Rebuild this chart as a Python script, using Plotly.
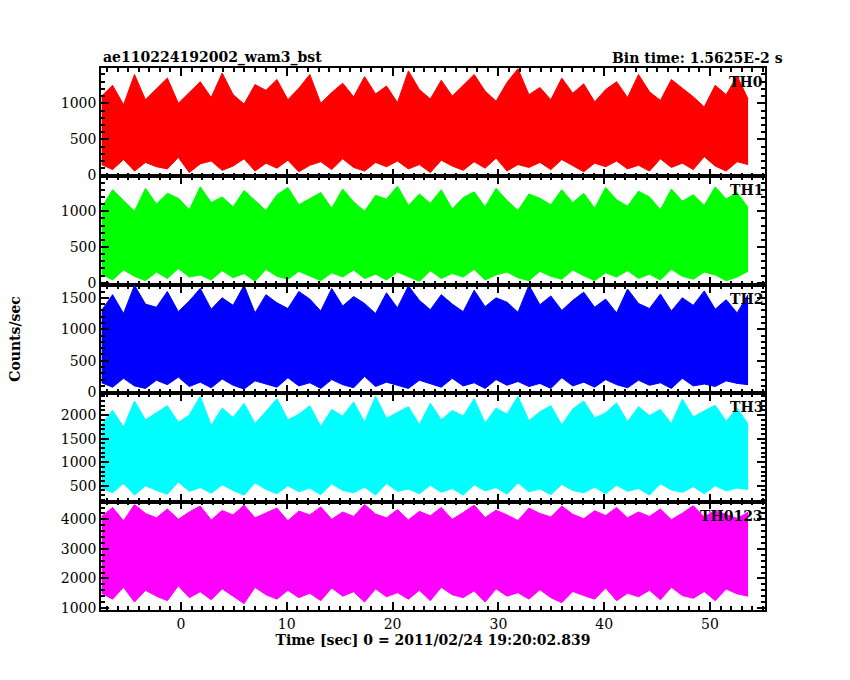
import numpy as np
import plotly.graph_objects as go
from plotly.subplots import make_subplots

# light curve, time span of the bins (s); values come in (peak, dip) pairs
t_start, t_stop = -7.5, 53.6

th0 = [1100,150,1250,80,980,220,1400,60,1050,180,1200,120,1350,90,1000,250,1150,40,1300,160,
       1080,200,1420,70,1120,130,990,230,1260,60,1180,170,1330,100,1050,210,1210,50,1400,140,
       1000,190,1150,80,1280,230,1090,110,1370,60,1130,180,1240,120,1010,200,1450,90,1190,150,
       1060,40,1320,210,1100,130,1250,70,1400,190,1170,100,1030,240,1290,60,1480,150,1120,110,
       1220,180,1050,80,1350,220,1140,130,1270,50,1020,170,1190,120,1300,200,1080,90,1400,140,
       1160,60,1040,230,1330,110,1210,170,1090,80,950,260,1250,130,1120,60,1380,190,1060,150]
th1 = [1050,120,1300,40,1150,180,1000,90,1320,30,1100,150,1250,60,1180,200,1020,80,1340,110,
       1120,40,1200,170,1060,70,1290,130,1150,20,1010,190,1230,90,1330,50,1090,160,1180,100,
       1260,30,1040,140,1310,80,1130,180,1000,60,1220,120,1170,40,1350,150,1080,90,1240,20,
       1110,170,1300,60,1030,130,1190,80,1270,190,1060,40,1320,110,1150,150,1010,70,1240,30,
       1180,160,1090,90,1300,50,1120,180,1250,100,1040,30,1330,140,1160,80,1070,170,1280,60,
       1200,120,1020,40,1310,190,1140,90,1230,50,1080,150,1340,110,1170,30,1260,80,1050,160]
th2 = [1300,150,1550,80,1250,220,1700,100,1400,60,1350,190,1600,120,1280,240,1450,90,1650,160,
       1320,70,1500,210,1380,110,1700,50,1260,180,1550,130,1420,80,1330,230,1600,100,1480,150,
       1290,60,1650,200,1370,120,1520,70,1410,250,1250,90,1580,160,1340,110,1690,60,1460,190,
       1310,130,1550,80,1400,220,1280,100,1620,150,1360,60,1500,200,1430,110,1270,170,1700,90,
       1390,140,1530,60,1300,230,1460,100,1590,160,1350,80,1480,200,1260,120,1640,70,1410,190,
       1330,110,1560,150,1290,60,1500,220,1380,100,1610,130,1320,90,1470,180,1260,140,1550,120]
th3 = [1800,450,2100,350,1750,550,2300,300,1900,500,2050,400,2200,320,1850,580,2000,380,2400,460,
       1780,340,2150,520,1950,400,2250,300,1820,560,2080,420,2350,330,1900,500,2020,370,2200,450,
       1760,310,2120,540,1980,400,2280,350,1850,470,2400,300,1930,550,2060,380,2180,430,1800,330,
       2250,510,1900,360,2100,440,1980,300,2350,520,1830,390,2150,460,2020,320,2400,560,1880,370,
       2070,430,2200,310,1790,530,2130,400,2300,350,1940,470,2050,330,2260,510,1860,380,2180,440,
       1990,300,2120,540,1820,410,2340,360,1960,480,2090,330,2210,500,1870,390,2150,450,1810,420]
th0123 = [4100,1500,4400,1300,3950,1700,4500,1200,4200,1600,4050,1400,4350,1250,4000,1750,4250,1350,4450,1550,
          3980,1280,4300,1650,4150,1400,4480,1150,4050,1700,4220,1450,4380,1300,3950,1600,4280,1350,4150,1500,
          4420,1250,4000,1680,4250,1400,4100,1550,4500,1200,4180,1650,4050,1380,4330,1520,3980,1300,4270,1600,
          4120,1250,4400,1700,4000,1450,4230,1350,4480,1580,4060,1200,4310,1650,4150,1400,3960,1520,4380,1300,
          4200,1620,4080,1350,4450,1180,4170,1560,4020,1420,4290,1300,4130,1680,4400,1250,4050,1500,4250,1380,
          4100,1600,4350,1280,3990,1700,4210,1420,4460,1330,4080,1560,4300,1250,4160,1640,4030,1480,4240,1400]

series = [th0, th1, th2, th3, th0123]
labels = ["TH0", "TH1", "TH2", "TH3", "TH0123"]
colors = ["#ff0000", "#00ff00", "#0000ff", "#00ffff", "#ff00ff"]
yranges = [[-14, 1490], [-28, 1486], [-16, 1707], [162, 2466], [933, 4600]]
ydtick = [500, 500, 500, 500, 1000]

font = dict(family="DejaVu Serif", size=14, color="black")

fig = make_subplots(rows=5, cols=1, shared_xaxes=True, vertical_spacing=0)
for i, (vals, name, col) in enumerate(zip(series, labels, colors), start=1):
    highs, lows = vals[0::2], vals[1::2]
    t = np.linspace(t_start, t_stop, len(highs))
    fig.add_trace(go.Scatter(x=t, y=lows, mode="lines", line=dict(color=col, width=1),
                             showlegend=False), row=i, col=1)
    fig.add_trace(go.Scatter(x=t, y=highs, mode="lines", line=dict(color=col, width=1),
                             fill="tonexty", fillcolor=col, showlegend=False), row=i, col=1)
    fig.update_yaxes(range=yranges[i - 1], dtick=ydtick[i - 1], row=i, col=1)
    yref = "y domain" if i == 1 else f"y{i} domain"
    fig.add_annotation(text=f"<b>{name}</b>", x=1, y=1, xref="x domain", yref=yref,
                       xanchor="right", yanchor="top", yshift=-4, showarrow=False, font=font)

axstyle = dict(showgrid=False, zeroline=False, showline=True, linecolor="black", linewidth=1.5,
               mirror="ticks", ticks="inside", ticklen=8, tickcolor="black", tickwidth=1.5,
               tickfont=font, automargin=False,
               minor=dict(ticks="inside", ticklen=4, tickcolor="black"))
fig.update_xaxes(**axstyle, range=[-7.56, 55.2], dtick=10)
fig.update_yaxes(**axstyle)
fig.update_yaxes(minor=dict(nticks=5))
fig.update_xaxes(minor=dict(dtick=1))
fig.update_xaxes(title=dict(text="<b>Time [sec] 0 = 2011/02/24 19:20:02.839</b>", font=font, standoff=4),
                 row=5, col=1)

fig.add_annotation(text="<b>ae110224192002_wam3_bst</b>", x=0, y=1, xref="paper", yref="paper",
                   xanchor="left", yanchor="bottom", showarrow=False, font=font)
fig.add_annotation(text="<b>Bin time: 1.5625E-2 s</b>", x=1.03, y=1, xref="paper", yref="paper",
                   xanchor="right", yanchor="bottom", showarrow=False, font=font)
fig.add_annotation(text="<b>Counts/sec</b>", x=-0.145, y=0.5, xref="paper", yref="paper",
                   textangle=-90, showarrow=False, font=font)

fig.update_layout(width=850, height=680, plot_bgcolor="white", paper_bgcolor="white",
                  margin=dict(l=93, r=93, t=60, b=78))
fig.write_html("out.html")
